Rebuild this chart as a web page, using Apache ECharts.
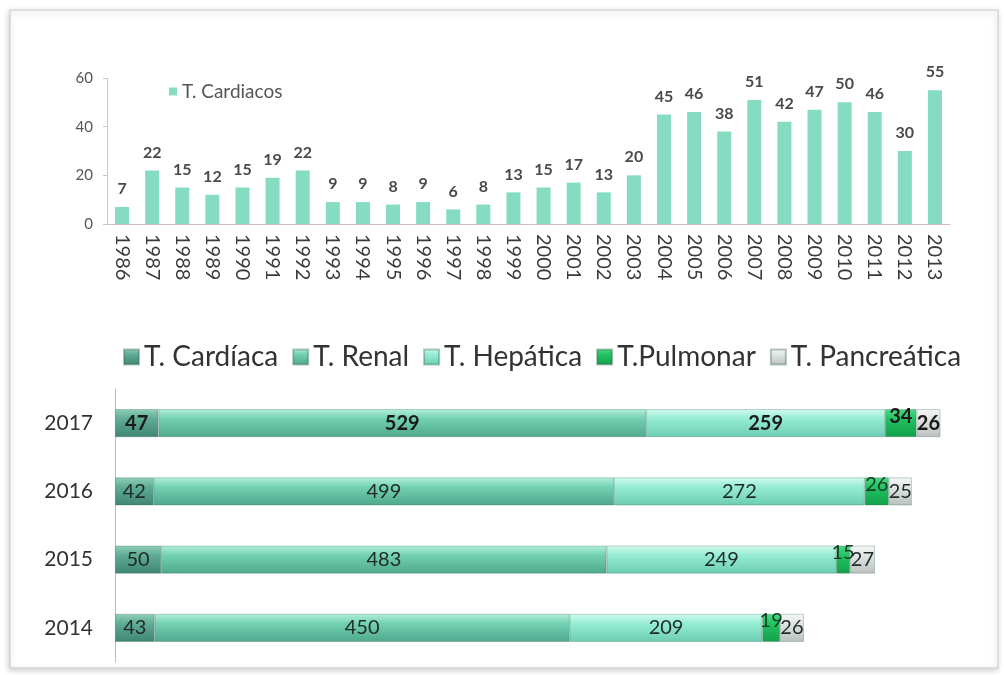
<!DOCTYPE html>
<html>
<head>
<meta charset="utf-8">
<script src="https://cdn.jsdelivr.net/npm/echarts@6/dist/echarts.min.js"></script>
<style>
  html, body { margin: 0; padding: 0; background: #fff; }
  #chart { width: 1004px; height: 675px; }
</style>
</head>
<body>
<div id="chart"></div>
<script>
// datos: trasplantes cardiacos por año
const years = ["1986", "1987", "1988", "1989", "1990", "1991", "1992", "1993", "1994", "1995",
  "1996", "1997", "1998", "1999", "2000", "2001", "2002", "2003", "2004", "2005",
  "2006", "2007", "2008", "2009", "2010", "2011", "2012", "2013"]
const cardiacos = [7, 22, 15, 12, 15, 19, 22, 9, 9, 8, 9, 6, 8, 13, 15, 17, 13, 20, 45, 46,
  38, 51, 42, 47, 50, 46, 30, 55]

// datos: trasplantes por tipo 2014-2017
const recentYears = ["2014", "2015", "2016", "2017"]
const cardiaca = [43, 50, 42, 47]
const renal = [450, 483, 499, 529]
const hepatica = [209, 249, 272, 259]
const pulmonar = [19, 15, 26, 34]
const pancreatica = [26, 27, 25, 26]

const chart = echarts.init(document.getElementById("chart"))

const font = "Lato, 'Open Sans', sans-serif"

// degradado vertical para simular el relieve de las barras
function grad(top, mid, bottom) {
  return new echarts.graphic.LinearGradient(0, 0, 0, 1, [
    { offset: 0, color: top },
    { offset: 0.35, color: mid },
    { offset: 1, color: bottom }
  ])
}

// etiquetas: 2017 en negrita
function segLabel(extra) {
  return Object.assign({
    show: true,
    position: "inside",
    fontFamily: font,
    fontSize: 20,
    color: "#1f2a26",
    formatter: p => p.dataIndex === 3 ? "{b|" + p.value + "}" : p.value,
    rich: { b: { fontWeight: "bold", fontSize: 20, fontFamily: font, color: "#1a1a1a" } }
  }, extra || {})
}

function stackSeries(name, data, color, label) {
  return {
    name,
    type: "bar",
    stack: "total",
    xAxisIndex: 1,
    yAxisIndex: 1,
    barWidth: 28,
    data,
    itemStyle: { color, borderColor: "rgba(40,90,75,0.35)", borderWidth: 0.8 },
    label
  }
}

const option = {
  animation: false,
  textStyle: { fontFamily: font },
  graphic: [
    {
      type: "rect",
      shape: { x: 10, y: 10, width: 988, height: 658 },
      style: {
        fill: "#fff",
        stroke: "#d6d6d6",
        lineWidth: 1.5,
        shadowBlur: 6,
        shadowColor: "rgba(0,0,0,0.18)",
        shadowOffsetX: -1,
        shadowOffsetY: 2
      },
      z: -10
    }
  ],
  legend: [
    {
      data: ["T. Cardiacos"],
      left: 164,
      top: 77,
      itemWidth: 8,
      itemHeight: 8,
      itemGap: 6,
      icon: "rect",
      textStyle: { fontSize: 19, color: "#555", fontFamily: font }
    },
    {
      data: ["T. Cardíaca", "T. Renal", "T. Hepática", "T.Pulmonar", "T. Pancreática"],
      left: 118,
      top: 338,
      itemWidth: 15,
      itemHeight: 15,
      itemGap: 14,
      icon: "rect",
      textStyle: { fontSize: 28, color: "#333", fontFamily: font }
    }
  ],
  grid: [
    { left: 107, right: 54, top: 78, height: 146 },
    { left: 115, width: 830, top: 389, height: 273 }
  ],
  xAxis: [
    {
      type: "category",
      gridIndex: 0,
      data: years,
      axisLine: { lineStyle: { color: "#d9b8be" } },
      axisTick: { lineStyle: { color: "#d9b8be" } },
      axisLabel: { rotate: -90, interval: 0, fontSize: 20, color: "#3a3a3a", fontFamily: font, margin: 10 }
    },
    {
      type: "value",
      gridIndex: 1,
      min: 0,
      max: 900,
      show: false
    }
  ],
  yAxis: [
    {
      type: "value",
      gridIndex: 0,
      min: 0,
      max: 60,
      interval: 20,
      splitLine: { show: false },
      axisLine: { show: true, lineStyle: { color: "#c8c8c8" } },
      axisTick: { show: true, length: 4, lineStyle: { color: "#c8c8c8" } },
      axisLabel: { fontSize: 15, color: "#555", fontFamily: font, margin: 14 }
    },
    {
      type: "category",
      gridIndex: 1,
      data: recentYears,
      axisLine: { lineStyle: { color: "#bdbdbd" } },
      axisTick: { length: 6, lineStyle: { color: "#bdbdbd" } },
      axisLabel: { fontSize: 21, color: "#333", fontFamily: font, margin: 22 }
    }
  ],
  series: [
    {
      name: "T. Cardiacos",
      type: "bar",
      xAxisIndex: 0,
      yAxisIndex: 0,
      barWidth: 14,
      data: cardiacos,
      itemStyle: { color: "#86dcc2" },
      label: { show: true, position: "top", distance: 10, fontSize: 16, fontWeight: "bold", color: "#4a4a4a", fontFamily: font }
    },
    stackSeries("T. Cardíaca", cardiaca, grad("#8fcfba", "#5fab94", "#3f8673"), segLabel()),
    stackSeries("T. Renal", renal, grad("#b2f0dc", "#73d0b1", "#4fa88c"), segLabel()),
    stackSeries("T. Hepática", hepatica, grad("#d2fbef", "#95ecd3", "#6ccdb1"), segLabel()),
    stackSeries("T.Pulmonar", pulmonar, grad("#4fd985", "#22c262", "#12a04a"),
      segLabel({ position: "insideTop", offset: [0, -8], color: "#123d22" })),
    stackSeries("T. Pancreática", pancreatica, grad("#f4f6f5", "#e1e6e4", "#b9c0bd"), segLabel())
  ]
}

chart.setOption(option)
</script>
</body>
</html>
